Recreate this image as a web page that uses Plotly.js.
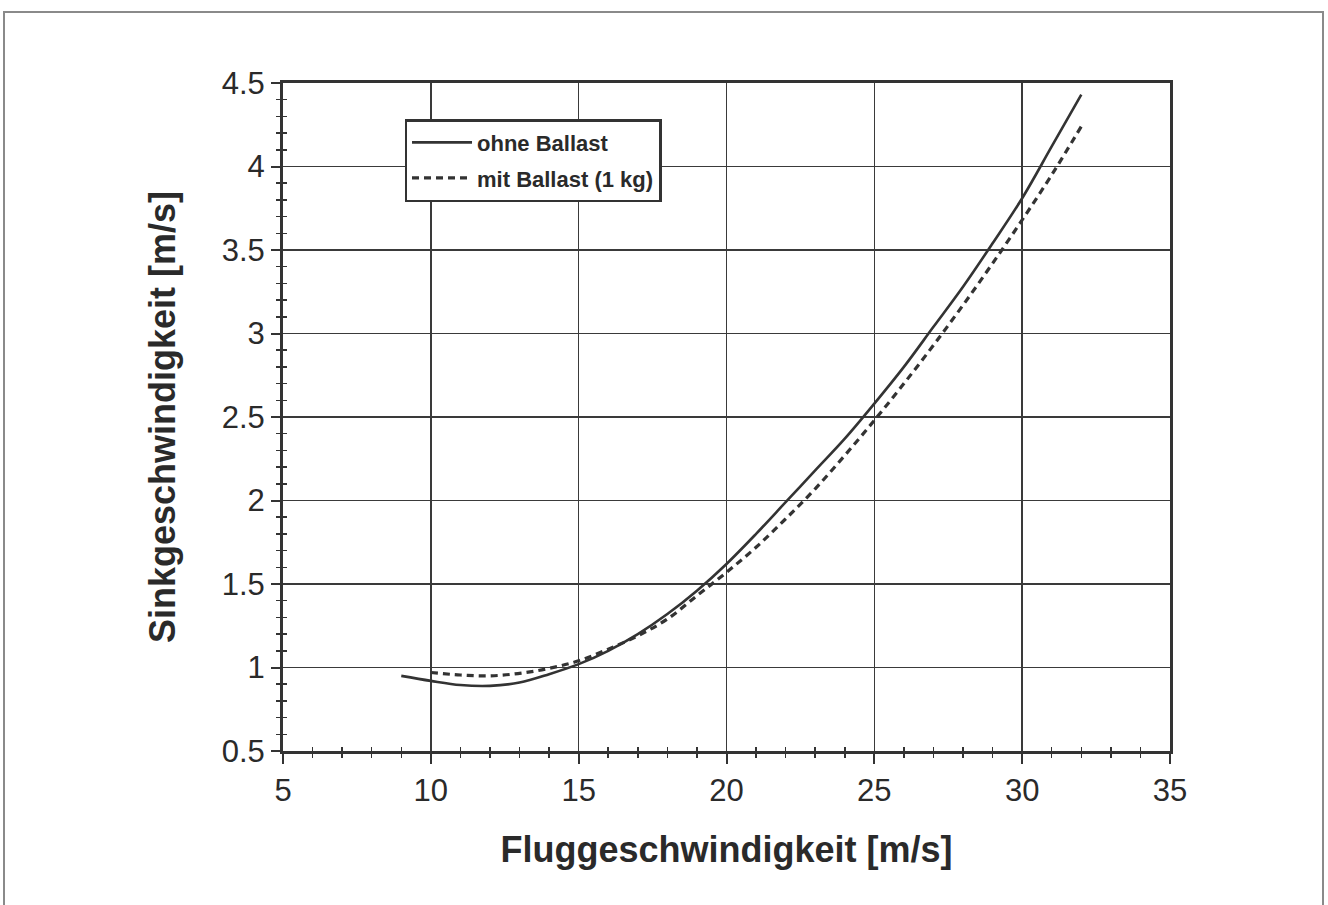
<!DOCTYPE html>
<html>
<head>
<meta charset="utf-8">
<script src="https://cdn.plot.ly/plotly-3.0.1.min.js"></script>
<style>
  html, body { margin: 0; padding: 0; background: #fff; }
  #wrap { position: relative; width: 1328px; height: 905px; overflow: hidden; }
  #chart { width: 1328px; height: 905px; }
  #frame { position: absolute; left: 3px; top: 11px; width: 1317px; height: 900px;
           border: 2px solid #8a8a8a; pointer-events: none; }
</style>
</head>
<body>
<div id="wrap">
  <div id="chart"></div>
  <div id="frame"></div>
</div>
<script>
// Flight speed [m/s]
const speedOhne = [9, 10, 11, 12, 13, 14, 15, 16, 17, 18, 19, 20, 21, 22, 23, 24, 25, 26, 27, 28, 29, 30, 31, 32];
// Sink rate without ballast [m/s]
const sinkOhne  = [0.95, 0.92, 0.895, 0.89, 0.91, 0.96, 1.02, 1.10, 1.20, 1.32, 1.46, 1.62, 1.80, 1.99, 2.18, 2.37, 2.58, 2.80, 3.04, 3.28, 3.54, 3.81, 4.12, 4.43];
// Flight speed [m/s] with ballast
const speedMit  = [10, 11, 12, 13, 14, 15, 16, 17, 18, 19, 20, 21, 22, 23, 24, 25, 26, 27, 28, 29, 30, 31, 32];
// Sink rate with ballast (1 kg) [m/s]
const sinkMit   = [0.97, 0.955, 0.95, 0.965, 0.995, 1.04, 1.11, 1.19, 1.29, 1.43, 1.57, 1.72, 1.89, 2.07, 2.27, 2.48, 2.70, 2.93, 3.17, 3.42, 3.68, 3.95, 4.24];

const seriesNames = ['ohne Ballast', 'mit Ballast (1 kg)'];
const xTitle = 'Fluggeschwindigkeit [m/s]';
const yTitle = 'Sinkgeschwindigkeit [m/s]';
const xRange = [5, 35];
const yRange = [0.5, 4.5];

const ink = '#333333';
const fontFam = '"Liberation Sans", Arial, sans-serif';

const traces = [
  { x: speedOhne, y: sinkOhne, name: seriesNames[0], type: 'scatter', mode: 'lines',
    line: { color: ink, width: 2.6, shape: 'spline' }, legendgroup: 'a', hoverinfo: 'x+y' },
  { x: speedMit, y: sinkMit, name: seriesNames[1], type: 'scatter', mode: 'lines',
    line: { color: ink, width: 3.2, dash: '7px,5px', shape: 'spline' }, legendgroup: 'b', hoverinfo: 'x+y' },
  { x: [], y: [], xaxis: 'x2', yaxis: 'y2', showlegend: false, hoverinfo: 'skip', type: 'scatter' }
];

const layout = {
  width: 1328, height: 905,
  paper_bgcolor: '#ffffff', plot_bgcolor: '#ffffff',
  margin: { l: 283, r: 158, t: 83, b: 154 },
  font: { family: fontFam, color: '#222' },
  showlegend: true,
  legend: {
    x: 0.137, y: 0.946, xanchor: 'left', yanchor: 'top',
    bgcolor: '#ffffff', bordercolor: ink, borderwidth: 2.5,
    font: { family: fontFam, size: 22, color: '#2a2a2a', weight: 'bold' },
    tracegroupgap: 4, traceorder: 'grouped', itemwidth: 60
  },
  xaxis: {
    range: xRange, dtick: 5, tick0: 5,
    showgrid: true, gridcolor: '#3a3a3a', gridwidth: 1.6,
    showline: true, linecolor: ink, linewidth: 3, mirror: true,
    ticks: 'outside', ticklen: 10, tickwidth: 2, tickcolor: ink,
    minor: { dtick: 1, tick0: 5, ticks: 'outside', ticklen: 4, tickwidth: 1.5, tickcolor: ink, showgrid: false },
    tickfont: { family: fontFam, size: 31, color: '#2a2a2a' },
    zeroline: false,
    title: { text: xTitle, font: { family: fontFam, size: 36, weight: 'bold', color: '#2a2a2a' }, standoff: 30 }
  },
  yaxis: {
    range: yRange, dtick: 0.5, tick0: 0.5,
    showgrid: true, gridcolor: '#3a3a3a', gridwidth: 1.6,
    showline: true, linecolor: ink, linewidth: 3, mirror: true,
    ticks: 'outside', ticklen: 9, tickwidth: 2, tickcolor: ink,
    minor: { dtick: 0.1, tick0: 0.5, ticks: 'outside', ticklen: 4, tickwidth: 1.5, tickcolor: ink, showgrid: false },
    tickfont: { family: fontFam, size: 31, color: '#2a2a2a' },
    zeroline: false,
    title: { text: yTitle, font: { family: fontFam, size: 36, weight: 'bold', color: '#2a2a2a' }, standoff: 36 }
  },
  xaxis2: {
    range: xRange, overlaying: 'x', anchor: 'y2', side: 'bottom',
    showgrid: false, showline: false, showticklabels: false, zeroline: false,
    ticks: '', minor: { dtick: 1, tick0: 5, ticks: 'inside', ticklen: 4, tickwidth: 1.5, tickcolor: ink, showgrid: false }
  },
  yaxis2: {
    range: yRange, overlaying: 'y', anchor: 'x2', side: 'left',
    showgrid: false, showline: false, showticklabels: false, zeroline: false,
    ticks: '', minor: { dtick: 0.1, tick0: 0.5, ticks: 'inside', ticklen: 4, tickwidth: 1.5, tickcolor: ink, showgrid: false }
  }
};

Plotly.newPlot('chart', traces, layout, { displayModeBar: false, staticPlot: true });
</script>
</body>
</html>
